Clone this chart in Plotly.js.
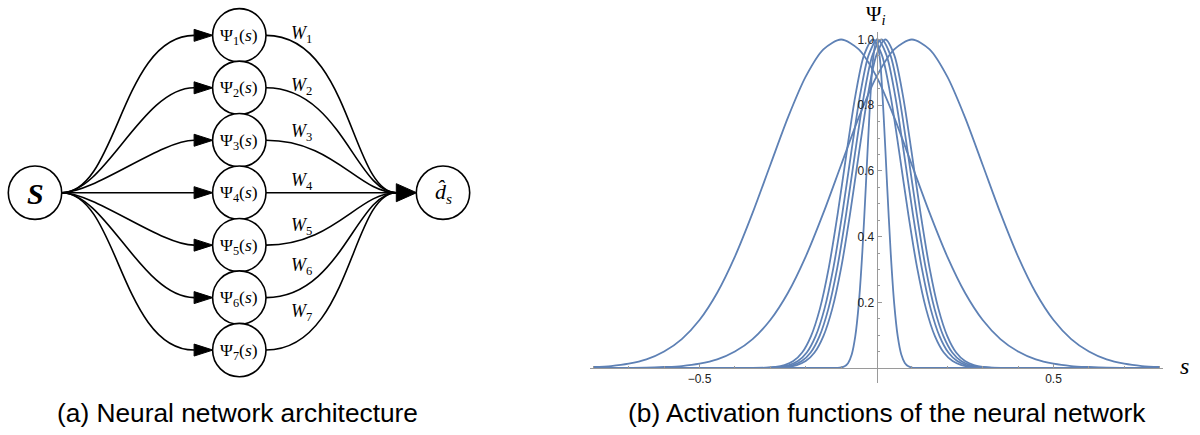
<!DOCTYPE html>
<html>
<head>
<meta charset="utf-8">
<script src="https://cdn.plot.ly/plotly-3.0.1.min.js"></script>
<style>html,body{margin:0;padding:0;background:#fff;}#chart{width:1200px;height:435px;}</style>
</head>
<body>
<div id="chart"></div>
<script>
// ---------------- data ----------------
const wideX = [-0.8,-0.75,-0.7,-0.65,-0.6,-0.55,-0.5,-0.45,-0.4,-0.35,-0.3,-0.25,-0.2,-0.15,-0.1,-0.05,0,0.05,0.1,0.15,0.2,0.25,0.3,0.35,0.4,0.45,0.5,0.55,0.6,0.65,0.7,0.75,0.8];
const psiWideLeftY = [0.003,0.006,0.013,0.026,0.050,0.088,0.146,0.229,0.339,0.472,0.618,0.763,0.887,0.970,1.000,0.970,0.887,0.763,0.618,0.472,0.339,0.229,0.146,0.088,0.050,0.026,0.013,0.006,0.003,0.001,0.0005,0.0002,0.0001];
const psiWideRightY = [0.0001,0.0002,0.0005,0.001,0.003,0.006,0.013,0.026,0.050,0.088,0.146,0.229,0.339,0.472,0.618,0.763,0.887,0.970,1.000,0.970,0.887,0.763,0.618,0.472,0.339,0.229,0.146,0.088,0.050,0.026,0.013,0.006,0.003];

const psiMidAX = [-0.8,-0.31,-0.285,-0.26,-0.235,-0.21,-0.185,-0.16,-0.135,-0.11,-0.085,-0.06,-0.035,-0.01,0.015,0.04,0.065,0.09,0.115,0.14,0.165,0.19,0.215,0.24,0.265,0.29,0.8];
const psiMidBX = [-0.8,-0.297,-0.272,-0.247,-0.222,-0.197,-0.172,-0.147,-0.122,-0.097,-0.072,-0.047,-0.022,0.003,0.028,0.053,0.078,0.103,0.128,0.153,0.178,0.203,0.228,0.253,0.278,0.303,0.8];
const psiMidCX = [-0.8,-0.286,-0.261,-0.236,-0.211,-0.186,-0.161,-0.136,-0.111,-0.086,-0.061,-0.036,-0.011,0.014,0.039,0.064,0.089,0.114,0.139,0.164,0.189,0.214,0.239,0.264,0.289,0.314,0.8];
const psiMidDX = [-0.8,-0.275,-0.25,-0.225,-0.2,-0.175,-0.15,-0.125,-0.1,-0.075,-0.05,-0.025,0,0.025,0.05,0.075,0.1,0.125,0.15,0.175,0.2,0.225,0.25,0.275,0.3,0.325,0.8];
const psiMidY = [0,0.001,0.003,0.009,0.021,0.047,0.097,0.180,0.304,0.467,0.651,0.827,0.953,1.000,0.953,0.827,0.651,0.467,0.304,0.180,0.097,0.047,0.021,0.009,0.003,0.001,0];

const psiNarrowX = [-0.8,-0.12,-0.11,-0.1,-0.09,-0.08,-0.07,-0.06,-0.05,-0.04,-0.03,-0.02,-0.01,0,0.01,0.02,0.03,0.04,0.05,0.06,0.07,0.08,0.09,0.1,0.11,0.12,0.8];
const psiNarrowY = [0,0.0001,0.0004,0.0015,0.0051,0.0155,0.041,0.096,0.196,0.353,0.556,0.771,0.937,1.000,0.937,0.771,0.556,0.353,0.196,0.096,0.041,0.0155,0.0051,0.0015,0.0004,0.0001,0];

const xTickVals = [-0.5, 0.5];
const xTickText = ['\u22120.5', '0.5'];
const yTickVals = [0.2, 0.4, 0.6, 0.8, 1.0];
const yTickText = ['0.2', '0.4', '0.6', '0.8', '1.0'];
const xMinorVals = [-0.8,-0.7,-0.6,-0.4,-0.3,-0.2,-0.1,0.1,0.2,0.3,0.4,0.6,0.7,0.8];
const yMinorVals = [0.05,0.1,0.15,0.25,0.3,0.35,0.45,0.5,0.55,0.65,0.7,0.75,0.85,0.9,0.95];

// network labels
const hiddenLabels = ['\u03A8<sub>1</sub>(<i>s</i>)','\u03A8<sub>2</sub>(<i>s</i>)','\u03A8<sub>3</sub>(<i>s</i>)','\u03A8<sub>4</sub>(<i>s</i>)','\u03A8<sub>5</sub>(<i>s</i>)','\u03A8<sub>6</sub>(<i>s</i>)','\u03A8<sub>7</sub>(<i>s</i>)'];
const weightLabels = ['<i>W</i><sub>1</sub>','<i>W</i><sub>2</sub>','<i>W</i><sub>3</sub>','<i>W</i><sub>4</sub>','<i>W</i><sub>5</sub>','<i>W</i><sub>6</sub>','<i>W</i><sub>7</sub>'];
const inputLabel = '<b><i>S</i></b>';
const outputLabel = '<i>d\u0302</i><sub><i>s</i></sub>';
const captionA = '(a) Neural network architecture';
const captionB = '(b) Activation functions of the neural network';

// ---------------- styles / layout geometry ----------------
const LINE = '#5E81B5';
const AX = '#9a9a9a';
const W = 1200, H = 435;
const serif = 'Liberation Serif, Times New Roman, serif';
const sans = 'Liberation Sans, Arial, sans-serif';

const curveSets = [
  [wideX, psiWideLeftY], [psiMidAX, psiMidY], [psiMidBX, psiMidY], [psiMidCX, psiMidY],
  [psiMidDX, psiMidY], [psiNarrowX, psiNarrowY], [wideX, psiWideRightY]
];
const traces = curveSets.map(([x, y]) => ({
  x: x, y: y, type: 'scatter', mode: 'lines',
  line: {color: LINE, width: 1.8, shape: 'spline', smoothing: 0.8},
  xaxis: 'x', yaxis: 'y', hoverinfo: 'skip', showlegend: false
}));

// plot geometry (pixels)
const x0px = 876.5, pxPerX = 354, y0px = 368, pxPerY = 328.5;
const xr = [-0.81, 0.81], yr = [-0.046, 1.023];
const xDom = [(x0px + xr[0]*pxPerX)/W, (x0px + xr[1]*pxPerX)/W];
const yDom = [(H - (y0px - yr[0]*pxPerY))/H, (H - (y0px - yr[1]*pxPerY))/H];

// network geometry (pixels, via x2/y2 which map 1:1)
const cy = 192.7, gap = 52.45, R = 26.7;
const inX = 35, hidX = 239.3, outX = 443;
const hidY = hiddenLabels.map((_, k) => cy + (k - 3)*gap);
const inCtrl = [[0,0],[33,33],[44,52],[56,73]];
const outCtrl = [[0,0],[68,38],[75,40],[85,45]];
const wPos = [34.5, 86, 132.5, 181.7, 226.7, 266.7, 312.5];

const shapes = [];
const edgeLine = {color: '#000', width: 1.6};
hidY.forEach((y, k) => {
  const lev = Math.abs(k - 3);
  const sx = inX + R, ex = hidX - R - 18.5;
  const [a, b] = inCtrl[lev];
  const p = lev === 0 ? `M ${sx} ${cy} L ${ex} ${y}` :
    `M ${sx} ${cy} C ${sx + a} ${cy}, ${ex - b} ${y}, ${ex} ${y}`;
  shapes.push({type: 'path', xref: 'x2', yref: 'y2', path: p, line: edgeLine});
  shapes.push({type: 'path', xref: 'x2', yref: 'y2', path: `M ${ex} ${y-6} L ${hidX - R + 0.3} ${y} L ${ex} ${y+6} Z`, fillcolor: '#000', line: {color: '#000', width: 1}});
  const ox = hidX + R, oe = outX - R - 20;
  const [c, d] = outCtrl[lev];
  const q = lev === 0 ? `M ${ox} ${y} L ${oe} ${cy}` :
    `M ${ox} ${y} C ${ox + c} ${y}, ${oe - d} ${cy}, ${oe} ${cy}`;
  shapes.push({type: 'path', xref: 'x2', yref: 'y2', path: q, line: edgeLine});
});
shapes.push({type: 'path', xref: 'x2', yref: 'y2', path: `M ${outX-R-20} ${cy-9} L ${outX-R+0.3} ${cy} L ${outX-R-20} ${cy+9} Z`, fillcolor: '#000', line: {color: '#000', width: 1}});
const circ = (x, y) => ({type: 'circle', xref: 'x2', yref: 'y2', x0: x - R, x1: x + R, y0: y - R, y1: y + R, fillcolor: '#fff', line: {color: '#000', width: 1.6}});
shapes.push(circ(inX, cy));
hidY.forEach(y => shapes.push(circ(hidX, y)));
shapes.push(circ(outX, cy));

const ann = (xref, yref, x, y, text, family, size, yanchor) => ({
  xref: xref, yref: yref, x: x, y: y, text: text, showarrow: false,
  xanchor: 'center', yanchor: yanchor || 'middle', font: {family: family, size: size, color: '#000'}
});
const annotations = [];
annotations.push(ann('x2', 'y2', inX, cy + 1, inputLabel, serif, 30));
hidY.forEach((y, k) => annotations.push(ann('x2', 'y2', hidX, y + 1, hiddenLabels[k], serif, 17.5)));
weightLabels.forEach((t, k) => annotations.push(ann('x2', 'y2', 301.5, wPos[k], t, serif, 18)));
annotations.push(ann('x2', 'y2', outX, cy, outputLabel, serif, 22));
annotations.push(ann('paper', 'paper', 876/W, 1, '\u03A8<sub><i>i</i></sub>', serif, 21, 'top'));
annotations.push(ann('paper', 'paper', 1184/W, 1 - 366/H, '<i>s</i>', serif, 24));
annotations.push(ann('paper', 'paper', 237/W, 1 - 413/H, captionA, sans, 26.3));
annotations.push(ann('paper', 'paper', 887/W, 1 - 413/H, captionB, sans, 26.3));

const layout = {
  width: W, height: H,
  margin: {l: 0, r: 0, t: 0, b: 0},
  paper_bgcolor: '#fff', plot_bgcolor: 'rgba(0,0,0,0)',
  showlegend: false,
  xaxis: {
    domain: xDom, range: xr, anchor: 'free', position: (H - y0px)/H,
    showline: true, linecolor: AX, linewidth: 1, zeroline: false, showgrid: false,
    tickmode: 'array', tickvals: xTickVals, ticktext: xTickText,
    ticks: 'inside', ticklen: 4, tickcolor: AX, tickwidth: 1,
    minor: {tickmode: 'array', tickvals: xMinorVals, ticks: 'inside', ticklen: 2.5, tickcolor: AX, tickwidth: 1, showgrid: false},
    tickfont: {family: sans, size: 12, color: '#222'}, fixedrange: true
  },
  yaxis: {
    domain: yDom, range: yr, anchor: 'free', position: x0px/W,
    showline: true, linecolor: AX, linewidth: 1, zeroline: false, showgrid: false,
    tickmode: 'array', tickvals: yTickVals, ticktext: yTickText,
    ticks: 'inside', ticklen: 4, tickcolor: AX, tickwidth: 1,
    minor: {tickmode: 'array', tickvals: yMinorVals, ticks: 'inside', ticklen: 2.5, tickcolor: AX, tickwidth: 1, showgrid: false},
    tickfont: {family: sans, size: 12, color: '#222'}, fixedrange: true
  },
  xaxis2: {domain: [0, 0.5], range: [0, 600], visible: false, anchor: 'y2', fixedrange: true},
  yaxis2: {domain: [0, 1], range: [H, 0], visible: false, anchor: 'x2', fixedrange: true},
  shapes: shapes,
  annotations: annotations
};

Plotly.newPlot('chart', traces, layout, {staticPlot: true, displayModeBar: false});
</script>
</body>
</html>
